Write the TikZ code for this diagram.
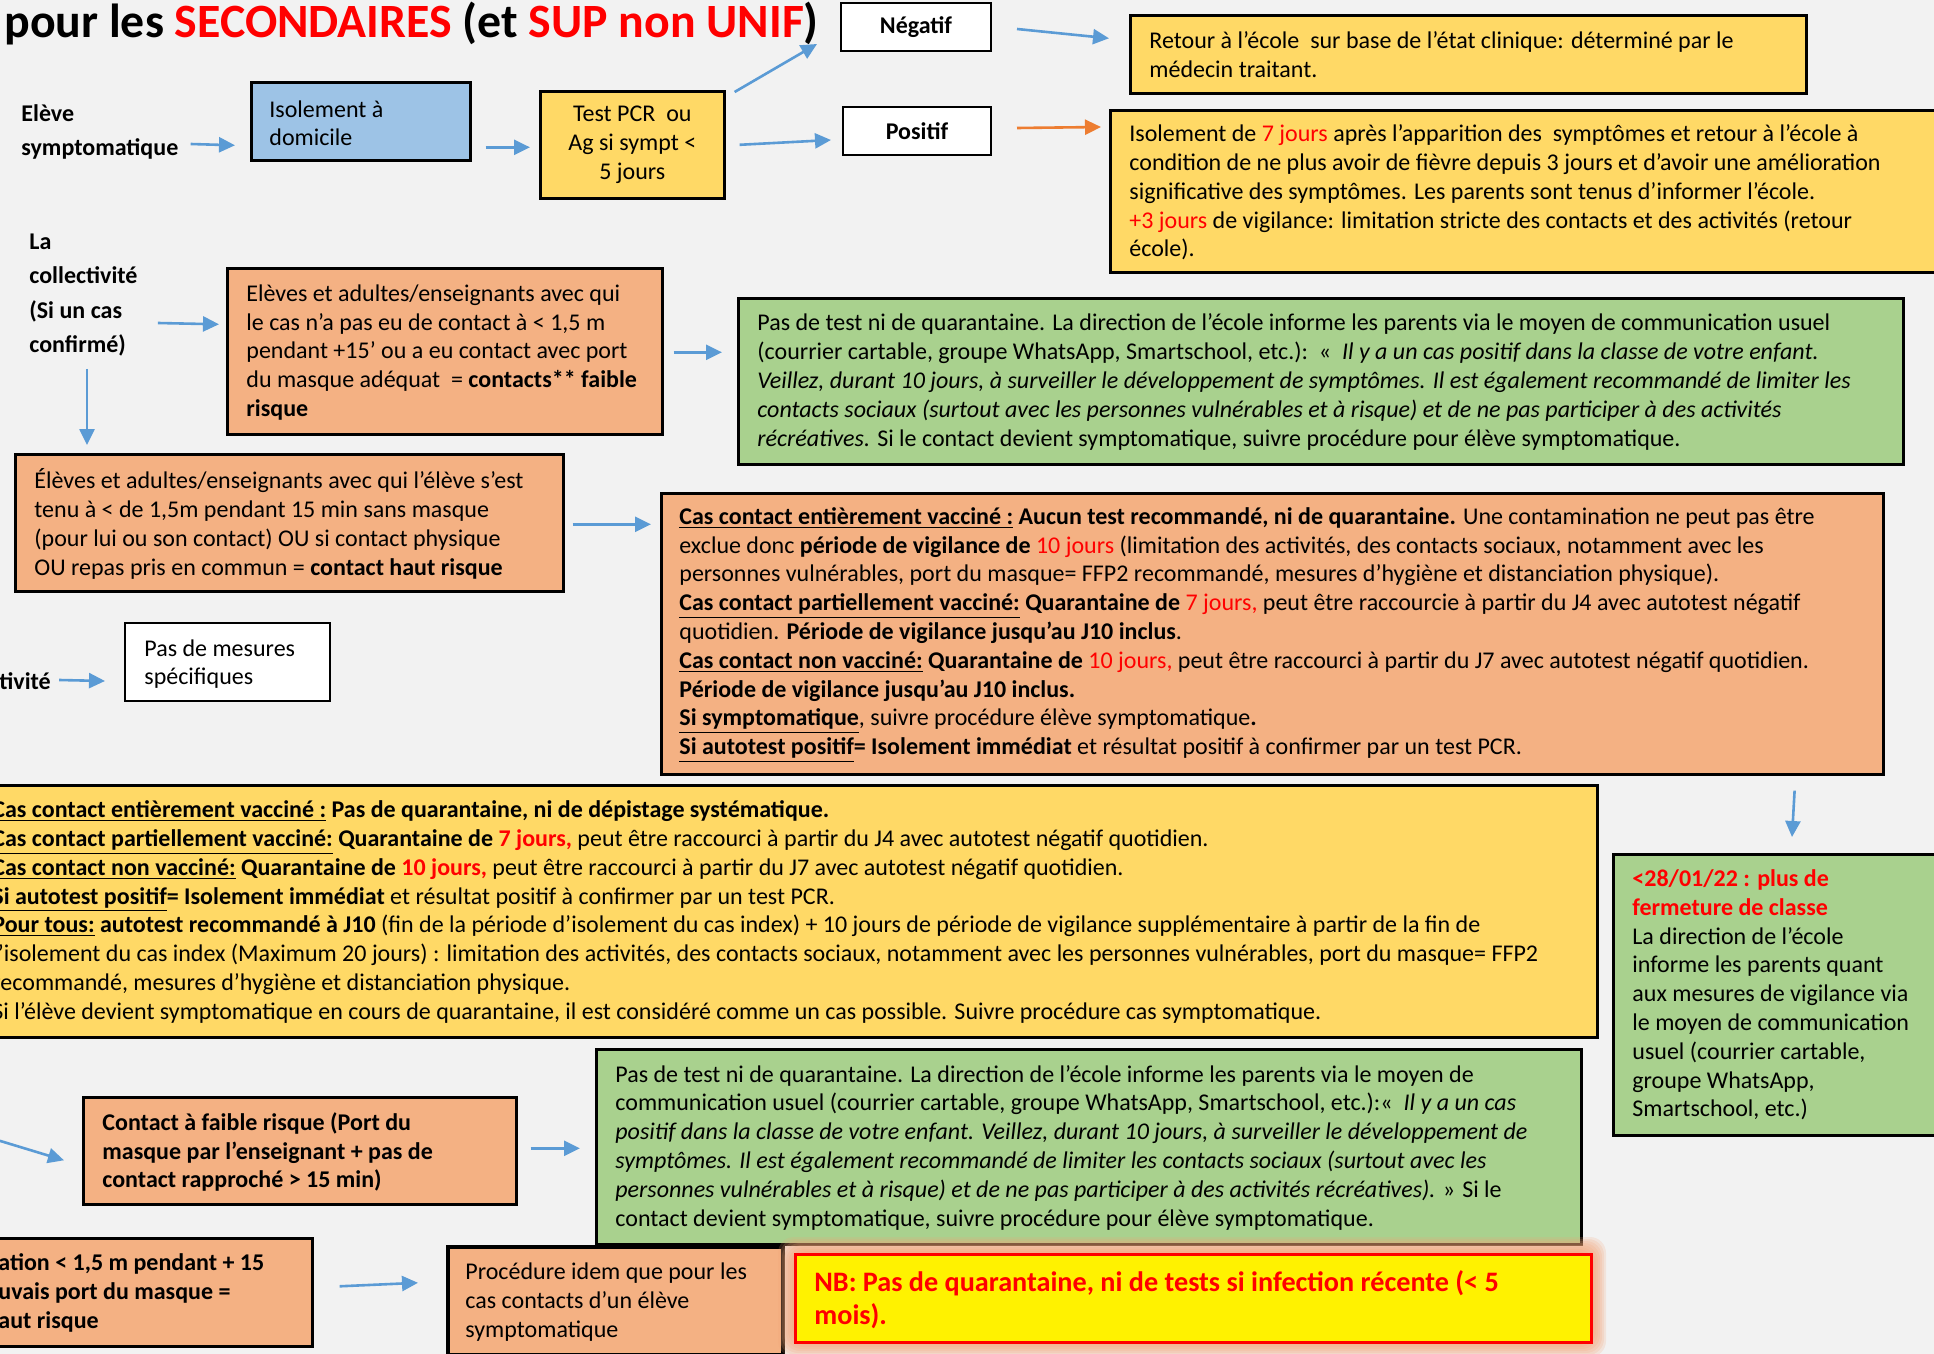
\documentclass[tikz,border=0pt]{standalone}
\usepackage{fontspec}
\setmainfont{Carlito}
\usetikzlibrary{arrows.meta,calc}
\definecolor{bgc}{HTML}{F2F2F2}
\definecolor{oranf}{HTML}{F4B183}
\definecolor{yelf}{HTML}{FFD966}
\definecolor{grnf}{HTML}{A9D18E}
\definecolor{bluf}{HTML}{9DC3E6}
\definecolor{arrb}{HTML}{5B9BD5}
\definecolor{arro}{HTML}{ED7D31}
\definecolor{glowc}{HTML}{F2A476}
\newcommand{\rtx}[1]{\textcolor{red}{#1}}
\newcommand{\ub}[1]{\underline{\textbf{#1}}}
\newcommand{\fsn}{\fontsize{12}{14.4}\selectfont}
\begin{document}
\begin{tikzpicture}[x=0.5pt,y=-0.5pt,
 box/.style={draw=black,line width=1.3pt,anchor=north west,inner sep=0pt},
 txt/.style={anchor=west,align=left,inner sep=0pt,font=\fsn},
 arr/.style={draw=arrb,line width=1.3pt,-{Triangle[length=8pt,width=7.5pt]}},
 arrO/.style={arr,draw=arro,fill=arro}]
\useasboundingbox (0,0) rectangle (1934,1354);
\clip (0,0) rectangle (1934,1354);
\fill[bgc] (0,0) rectangle (1934,1354);

\node[anchor=base west,inner sep=0pt,font=\fontsize{23.9}{28}\selectfont\bfseries] (title) at (4,38) {pour les \rtx{SECONDAIRES} (et \rtx{SUP non UNIF})};

\node[txt,font=\fontsize{12}{17}\selectfont\bfseries] (elevT) at (21,132) {Elève\\symptomatique};

\node[box,fill=bluf,minimum width=109.5pt,minimum height=39pt] (iso) at (250,81) {};
\node[txt,font=\fontsize{12}{14}\selectfont] (isoT) at (269,123) {Isolement à\\domicile};

\node[box,fill=yelf,minimum width=92pt,minimum height=53.5pt,align=center,font=\fontsize{12}{14.5}\selectfont] (test) at (539,90) {Test PCR\ \ ou\\Ag si sympt <\\5 jours};

\node[box,fill=white,line width=1pt,minimum width=75pt,minimum height=24pt,font=\fsn\bfseries] (neg) at (840,2) {Négatif};
\node[box,fill=white,line width=1pt,minimum width=74pt,minimum height=24pt,font=\fsn\bfseries] (pos) at (842,106) {Positif};

\node[box,fill=yelf,minimum width=338pt,minimum height=39pt] (ret) at (1129,14) {};
\node[txt] (retT) at (1149,55) {Retour à l’école\ \ sur base de l’état clinique: déterminé par le\\médecin traitant.};

\node[box,fill=yelf,minimum width=425pt,minimum height=81pt] (iso7) at (1109,109) {};
\node[txt] (iso7T) at (1129,192.5) {Isolement de \rtx{7 jours} après l’apparition des\ \ symptômes et retour à l’école à\\condition de ne plus avoir de fièvre depuis 3 jours et d’avoir une amélioration\\significative des symptômes. Les parents sont tenus d’informer l’école.\\\rtx{+3 jours} de vigilance: limitation stricte des contacts et des activités (retour\\école).};

\node[txt,font=\fontsize{12}{17.3}\selectfont\bfseries] (collT) at (29,295) {La\\collectivité\\(Si un cas\\confirmé)};

\node[box,fill=oranf,minimum width=217.5pt,minimum height=83pt] (faible) at (226,267) {};
\node[txt] (faibleT) at (246,352.5) {Elèves et adultes/enseignants avec qui\\le cas n’a pas eu de contact à < 1,5 m\\pendant +15’ ou a eu contact avec port\\du masque adéquat\ \ = \textbf{contacts** faible}\\\textbf{risque}};

\node[box,fill=grnf,minimum width=582.5pt,minimum height=83pt] (g1) at (737,297) {};
\node[txt] (g1T) at (757,382) {Pas de test ni de quarantaine. La direction de l’école informe les parents via le moyen de communication usuel\\(courrier cartable, groupe WhatsApp, Smartschool, etc.):\ \ «\ \ \textit{Il y a un cas positif dans la classe de votre enfant.}\\\textit{Veillez, durant 10 jours, à surveiller le développement de symptômes. Il est également recommandé de limiter les}\\\textit{contacts sociaux (surtout avec les personnes vulnérables et à risque) et de ne pas participer à des activités}\\\textit{récréatives.} Si le contact devient symptomatique, suivre procédure pour élève symptomatique.};

\node[box,fill=oranf,minimum width=274pt,minimum height=68.5pt] (haut) at (14,453) {};
\node[txt] (hautT) at (34,524) {Élèves et adultes/enseignants avec qui l’élève s’est\\tenu à < de 1,5m pendant 15 min sans masque\\(pour lui ou son contact) OU si contact physique\\OU repas pris en commun = \textbf{contact haut risque}};

\node[txt,font=\fsn\bfseries] (tivT) at (-1,681) {tivité};
\node[box,fill=white,line width=1pt,minimum width=102.5pt,minimum height=39pt] (mes) at (124,622) {};
\node[txt] (mesT) at (144,664) {Pas de mesures\\spécifiques};

\node[box,fill=oranf,minimum width=611pt,minimum height=140.5pt] (big) at (660,492) {};
\node[txt] (bigT) at (679,635) {\ub{Cas contact entièrement vacciné :} \textbf{Aucun test recommandé, ni de quarantaine.} Une contamination ne peut pas être\\exclue donc \textbf{période de vigilance de} \rtx{10 jours} (limitation des activités, des contacts sociaux, notamment avec les\\personnes vulnérables, port du masque= FFP2 recommandé, mesures d’hygiène et distanciation physique).\\\ub{Cas contact partiellement vacciné:} \textbf{Quarantaine de} \rtx{7 jours,} peut être raccourcie à partir du J4 avec autotest négatif\\quotidien. \textbf{Période de vigilance jusqu’au J10 inclus}.\\\ub{Cas contact non vacciné:} \textbf{Quarantaine de} \rtx{10 jours,} peut être raccourci à partir du J7 avec autotest négatif quotidien.\\\textbf{Période de vigilance jusqu’au J10 inclus.}\\\ub{Si symptomatique}, suivre procédure élève symptomatique\textbf{.}\\\ub{Si autotest positif}\textbf{= Isolement immédiat} et résultat positif à confirmer par un test PCR.};

\node[box,fill=yelf,minimum width=803pt,minimum height=126pt] (yel) at (-10,784) {};
\node[txt] (yelT) at (-8,912) {\ub{Cas contact entièrement vacciné :} \textbf{Pas de quarantaine, ni de dépistage systématique.}\\\ub{Cas contact partiellement vacciné:} \textbf{Quarantaine de \rtx{7 jours,}} peut être raccourci à partir du J4 avec autotest négatif quotidien.\\\ub{Cas contact non vacciné:} \textbf{Quarantaine de \rtx{10 jours,}} peut être raccourci à partir du J7 avec autotest négatif quotidien.\\\ub{Si autotest positif}\textbf{= Isolement immédiat} et résultat positif à confirmer par un test PCR.\\\ub{Pour tous:} \textbf{autotest recommandé à J10} (fin de la période d’isolement du cas index) + 10 jours de période de vigilance supplémentaire à partir de la fin de\\l’isolement du cas index (Maximum 20 jours) : limitation des activités, des contacts sociaux, notamment avec les personnes vulnérables, port du masque= FFP2\\recommandé, mesures d’hygiène et distanciation physique.\\Si l’élève devient symptomatique en cours de quarantaine, il est considéré comme un cas possible. Suivre procédure cas symptomatique.};

\node[box,fill=grnf,minimum width=174pt,minimum height=140.5pt] (gR) at (1612,853) {};
\node[txt] (gRT) at (1632,995) {\rtx{\textbf{<28/01/22 : plus de}}\\\rtx{\textbf{fermeture de classe}}\\La direction de l’école\\informe les parents quant\\aux mesures de vigilance via\\le moyen de communication\\usuel (courrier cartable,\\groupe WhatsApp,\\Smartschool, etc.)};

\node[box,fill=oranf,minimum width=216.5pt,minimum height=53.5pt] (cf) at (82,1096) {};
\node[txt,font=\fsn\bfseries] (cfT) at (102,1152) {Contact à faible risque (Port du\\masque par l’enseignant + pas de\\contact rapproché > 15 min)};

\node[box,fill=grnf,minimum width=492.5pt,minimum height=97.5pt] (g2) at (595,1048) {};
\node[txt] (g2T) at (615,1147.5) {Pas de test ni de quarantaine. La direction de l’école informe les parents via le moyen de\\communication usuel (courrier cartable, groupe WhatsApp, Smartschool, etc.):«\ \ \textit{Il y a un cas}\\\textit{positif dans la classe de votre enfant. Veillez, durant 10 jours, à surveiller le développement de}\\\textit{symptômes. Il est également recommandé de limiter les contacts sociaux (surtout avec les}\\\textit{personnes vulnérables et à risque) et de ne pas participer à des activités récréatives).} » Si le\\contact devient symptomatique, suivre procédure pour élève symptomatique.};

\node[box,fill=oranf,minimum width=160.5pt,minimum height=54pt] (bl) at (-10,1237) {};
\node[txt,font=\fsn\bfseries] (blT) at (-2,1293) {ation < 1,5 m pendant + 15\\uvais port du masque =\\aut risque};

\node[box,fill=oranf,line width=1.8pt,minimum width=167.5pt,minimum height=54pt] (proc) at (446,1245) {};
\node[txt] (procT) at (465,1302) {Procédure idem que pour les\\cas contacts d’un élève\\symptomatique};

\foreach \i in {1,...,8}
  \fill[glowc,opacity=0.18,rounded corners=8pt] (794-2*\i,1253-2*\i) rectangle (1590+2*\i,1341+2*\i);
\node[box,fill=yellow,draw=red,line width=1.3pt,minimum width=398pt,minimum height=44pt] (nb) at (794,1253) {};
\node[txt,font=\fontsize{14.1}{16.5}\selectfont\bfseries,text=red] (nbT) at (814,1300) {NB: Pas de quarantaine, ni de tests si infection récente (< 5\\mois).};

% connectors
\draw[arr] ($(elevT.east)+(12,12)$) -- ($(iso.west)+(-15,24)$);
\draw[arr] ($(iso.east)+(14,26)$) -- ($(test.west)+(-9,2.5)$);
\draw[arr] ($(test.north east)+(9,2)$) -- ($(neg.south west)+(-23,-8)$);
\draw[arr] ($(test.east)+(14,0)$) -- ($(pos.west)+(-11,9)$);
\draw[arr] ($(neg.east)+(25,2)$) -- ($(ret.west)+(-20,-16)$);
\draw[arrO] ($(pos.east)+(25,-3)$) -- ($(iso7.north west)+(-8,18)$);
\draw[arr] ($(collT.east)+(20,28)$) -- ($(faible.west)+(-7,-27)$);
\draw[arr] ($(collT.south west)+(58,12)$) -- ($(haut.north west)+(73,-8)$);
\draw[arr] ($(faible.east)+(10,1)$) -- ($(g1.west)+(-15,-29)$);
\draw[arr] ($(haut.east)+(8,1.5)$) -- ($(big.west)+(-9,-109.5)$);
\draw[arr] ($(tivT.east)+(8,-1)$) -- ($(mes.west)+(-19,19)$);
\draw[arr] ($(big.south east)+(-90,15)$) -- ($(gR.north west)+(180,-16)$);
\draw[arr] ($(cf.west)+(-102,-16)$) -- ($(cf.west)+(-18,9.5)$);
\draw[arr] ($(cf.east)+(13,-2.5)$) -- ($(g2.west)+(-15,1.5)$);
\draw[arr] ($(bl.east)+(26,-6)$) -- ($(proc.west)+(-28,-18)$);
\end{tikzpicture}
\end{document}
